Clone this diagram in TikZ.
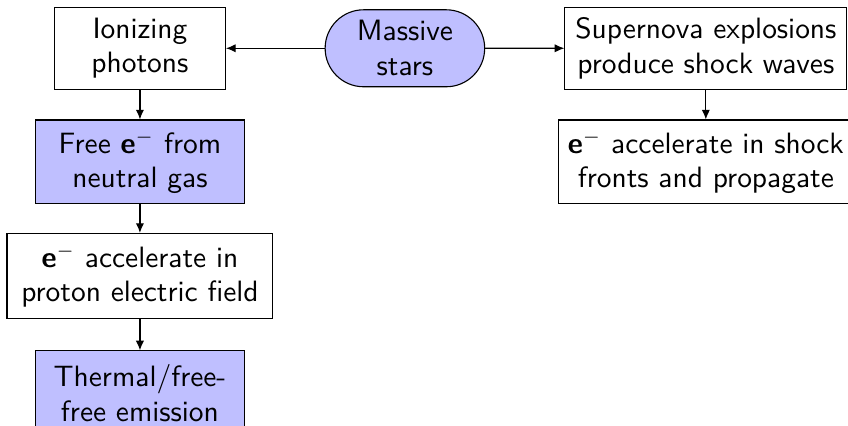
\documentclass[tikz,border=0pt]{standalone}
\usetikzlibrary{arrows.meta,shapes.misc}
\begin{document}
\begin{tikzpicture}[
    font=\sffamily\fontsize{10.7pt}{12.6pt}\selectfont,
    box/.style={draw, align=center, inner sep=2pt},
    hot/.style={box, fill=blue!25},
    link/.style={-{Latex[length=3.5pt,width=3pt]}}
]
    %% the frame of the picture; the right column and the last box run off its edge
    \useasboundingbox (0,0) rectangle (10.84,-5.444);
    \clip (0,0) rectangle (10.84,-5.444);
    %% top row
    \node[box, minimum width=2.185cm, minimum height=1.048cm] (photons) at (1.789,-0.617) {Ionizing\\photons};
    \node[hot, rounded rectangle, minimum width=2.18cm, minimum height=0.984cm] (stars) at (5.176,-0.617) {Massive\\stars};
    \node[box, minimum width=3.604cm, minimum height=1.048cm] (supernova) at (9.023,-0.617) {Supernova explosions\\produce shock waves};
    %% right column
    \node[box, minimum width=3.757cm, minimum height=1.073cm] (shock) at (9.023,-2.070) {\textbf{e}$^-$ accelerate in shock\\fronts and propagate};
    %% left column
    \node[hot, minimum width=2.666cm, minimum height=1.073cm] (freee) at (1.789,-2.070) {Free \textbf{e}$^-$ from\\neutral gas};
    \node[box, minimum width=3.40cm, minimum height=1.086cm] (field) at (1.789,-3.527) {\textbf{e}$^-$ accelerate in\\proton electric field};
    \node[hot, minimum width=2.666cm, minimum height=1.073cm] (thermal) at (1.789,-5.022) {Thermal/free-\\free emission};
    %% arrows
    \draw[link] (stars) -- (photons);
    \draw[link] (stars) -- (supernova);
    \draw[link] (supernova) -- (shock);
    \draw[link] (photons) -- (freee);
    \draw[link] (freee) -- (field);
    \draw[link] (field) -- (thermal);
\end{tikzpicture}
\end{document}
